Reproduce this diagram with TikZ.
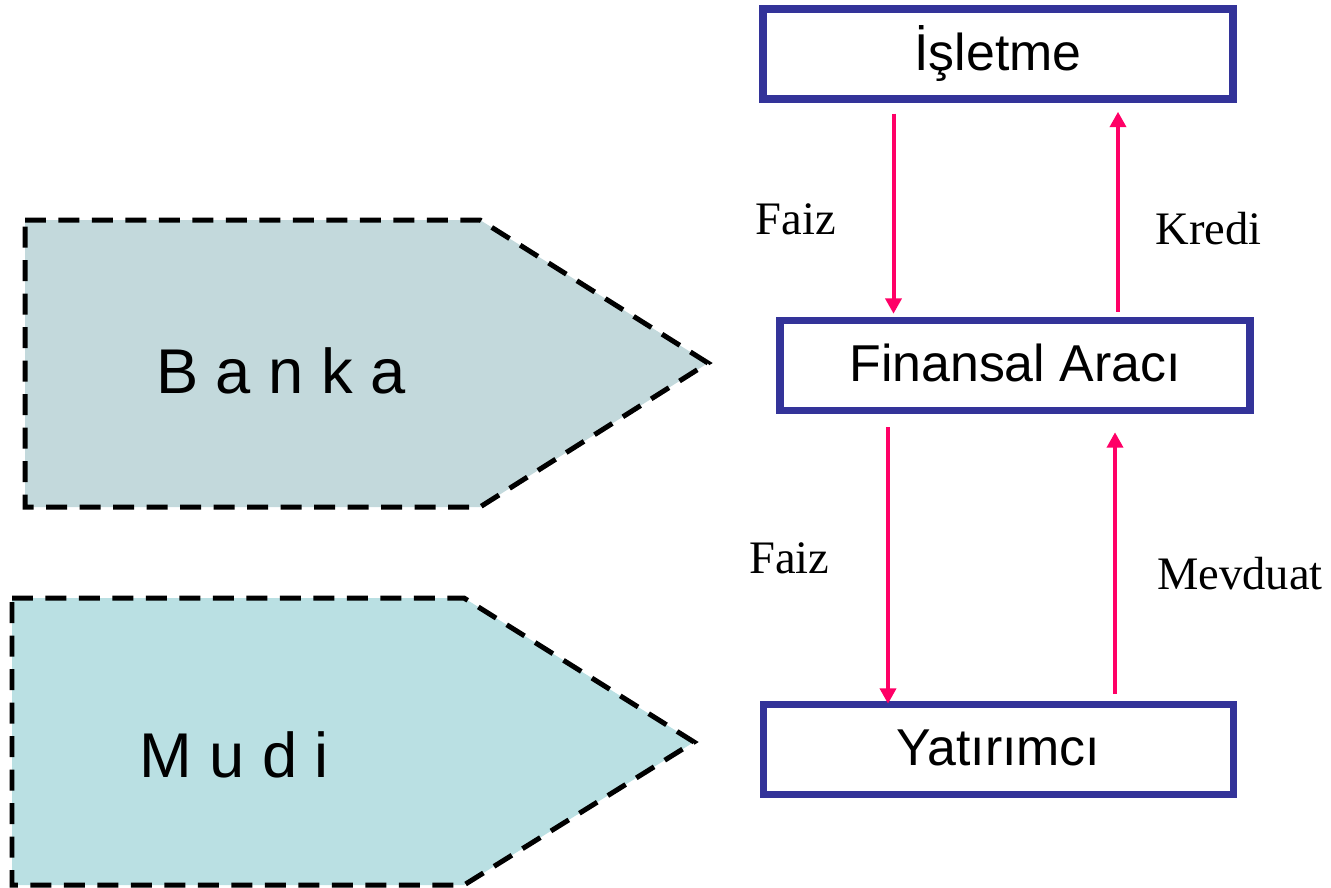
\documentclass[tikz,border=0pt]{standalone}
\usepackage{fontspec}
\setmainfont{Liberation Serif}
\setsansfont{Liberation Sans}
\usepackage{tikz}
\usetikzlibrary{arrows.meta}
\definecolor{boxblue}{HTML}{333399}
\definecolor{flowpink}{HTML}{FF0066}
\definecolor{bankafill}{HTML}{C3D9DC}
\definecolor{mudifill}{HTML}{BAE0E3}

\begin{document}
\begin{tikzpicture}[x=0.02cm, y=-0.02cm,
                    main node/.style={draw=boxblue, line width=0.15cm, minimum width=9.4cm,
                      minimum height=1.8cm, inner sep=0pt, text height=0.64cm, text depth=0pt,
                      font=\sffamily\fontsize{29.5}{35}\selectfont},
                    flow/.style={draw=flowpink, line width=0.08cm,
                      -{Triangle[length=0.31cm,width=0.32cm]}},
                    side/.style={draw, dash pattern=on 0.42cm off 0.25cm, line width=0.1cm},
                    big label/.style={font=\sffamily\fontsize{36}{43}\selectfont, anchor=base},
                    flow label/.style={font=\fontsize{26.5}{32}\selectfont, anchor=base}]

  \useasboundingbox (0,0) rectangle (1331,887);

  % left side
  \draw[side, fill=bankafill] (25,220) -- (480,220) -- (708,363) -- (480,507) -- (25,507) -- cycle;
  \draw[side, fill=mudifill] (12,598) -- (464,598) -- (694,742) -- (464,885) -- (12,885) -- cycle;
  \node[big label] (banka) at (281,393) {B a n k a};
  \node[big label] (mudi) at (234,777) {M u d i};

  % boxes
  \node[main node] (isletme) at (998,54) {İşletme};
  \node[main node] (finansal) at (1015,365.5) {Finansal Aracı};
  \node[main node] (yatirimci) at (998.5,749.5) {Yatırımcı};

  \draw[flow, shorten <=0.22cm, shorten >=0.06cm] (isletme.south -| 893.5,0) -- (finansal.north -| 893.5,0);
  \draw[flow, shorten <=0.1cm, shorten >=0.18cm] (finansal.north -| 1118,0) -- (isletme.south -| 1118,0);
  \draw[flow, shorten <=0.26cm, shorten >=-0.06cm] (finansal.south -| 888,0) -- (yatirimci.north -| 888,0);
  \draw[flow, shorten <=0.14cm, shorten >=0.36cm] (yatirimci.north -| 1115,0) -- (finansal.south -| 1115,0);

  \node[flow label] (faiz1) at (796,234) {Faiz};
  \node[flow label] (kredi) at (1208.5,244) {Kredi};
  \node[flow label] (faiz2) at (789.5,573) {Faiz};
  \node[flow label] (mevduat) at (1240,589) {Mevduat};
\end{tikzpicture}
\end{document}
